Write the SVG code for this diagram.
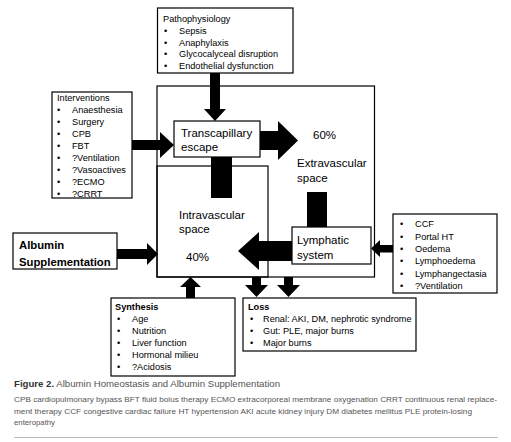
<svg xmlns="http://www.w3.org/2000/svg" width="511" height="442" viewBox="0 0 511 442">
<style>
.box{fill:#fff;stroke:#000;stroke-width:1.2}
.frame{fill:none;stroke:#000;stroke-width:1.2}
.s{font-family:"Liberation Sans",Arial,sans-serif;font-size:9.2px;fill:#000}
.m{font-family:"Liberation Sans",Arial,sans-serif;font-size:11.5px;fill:#000}
.b{font-weight:bold}
.cap{font-family:"Liberation Sans",Arial,sans-serif;font-size:7.6px;fill:#555}
.ttl{font-family:"Liberation Sans",Arial,sans-serif;font-size:9.6px;fill:#555}
.ar{fill:#000}
</style>
<rect width="511" height="442" fill="#fff"/>

<g id="extravascular">
<rect class="frame" x="157" y="86" width="217.5" height="191"/>
<text class="m" x="313" y="139">60%</text>
<text class="m" x="297" y="167">Extravascular</text>
<text class="m" x="297" y="182">space</text>
</g>

<g id="intravascular">
<rect class="frame" x="157" y="166" width="111" height="111"/>
<text class="m" x="179" y="219">Intravascular</text>
<text class="m" x="179" y="233">space</text>
<text class="m" x="186" y="261">40%</text>
</g>

<g id="connectors">
<rect class="ar" x="210" y="73" width="10" height="37"/>
<polygon class="ar" points="204,109 226,109 215,121"/>
<rect class="ar" x="132" y="140" width="29" height="10"/>
<polygon class="ar" points="160,132 160,158 174,145"/>
<rect class="ar" x="260" y="131" width="19" height="19"/>
<polygon class="ar" points="278,121 278,160 298,140.5"/>
<rect class="ar" x="211" y="157" width="21" height="41"/>
<rect class="ar" x="307" y="192" width="20" height="35"/>
<rect class="ar" x="258" y="241" width="34" height="20"/>
<polygon class="ar" points="259,232 259,270 238,251"/>
<rect class="ar" x="117" y="249" width="31" height="10"/>
<polygon class="ar" points="147,243 147,265 158,254"/>
<rect class="ar" x="379" y="245" width="14" height="7.5"/>
<polygon class="ar" points="380,240 380,257 371,248.5"/>
<rect class="ar" x="186" y="286" width="9" height="12"/>
<polygon class="ar" points="180,287 201,287 190.5,277"/>
<rect class="ar" x="252" y="277" width="9" height="9"/>
<polygon class="ar" points="245,285 268,285 256.5,297"/>
<rect class="ar" x="284" y="277" width="9" height="9"/>
<polygon class="ar" points="277,285 300,285 288.5,297"/>
</g>

<g id="pathophysiology">
<rect class="box" x="157.5" y="8" width="135.5" height="65"/>
<text class="s" x="163" y="21.7">Pathophysiology</text>
<text class="s" x="164" y="33.6">•</text><text class="s" x="179" y="33.6">Sepsis</text>
<text class="s" x="164" y="45.5">•</text><text class="s" x="179" y="45.5">Anaphylaxis</text>
<text class="s" x="164" y="57.4">•</text><text class="s" x="179" y="57.4">Glycocalyceal disruption</text>
<text class="s" x="164" y="69.3">•</text><text class="s" x="179" y="69.3">Endothelial dysfunction</text>
</g>

<g id="interventions">
<rect class="box" x="52" y="92" width="80" height="106"/>
<text class="s" x="57" y="100.5">Interventions</text>
<text class="s" x="57" y="112.5">•</text><text class="s" x="72" y="112.5">Anaesthesia</text>
<text class="s" x="57" y="124.5">•</text><text class="s" x="72" y="124.5">Surgery</text>
<text class="s" x="57" y="136.5">•</text><text class="s" x="72" y="136.5">CPB</text>
<text class="s" x="57" y="148.5">•</text><text class="s" x="72" y="148.5">FBT</text>
<text class="s" x="57" y="160.5">•</text><text class="s" x="72" y="160.5">?Ventilation</text>
<text class="s" x="57" y="172.5">•</text><text class="s" x="72" y="172.5">?Vasoactives</text>
<text class="s" x="57" y="184.5">•</text><text class="s" x="72" y="184.5">?ECMO</text>
<text class="s" x="57" y="196.5">•</text><text class="s" x="72" y="196.5">?CRRT</text>
</g>

<g id="transcapillary">
<rect class="box" x="174" y="121" width="86" height="36"/>
<text class="m" x="181" y="137">Transcapillary</text>
<text class="m" x="181" y="151">escape</text>
</g>

<g id="lymphatic">
<rect class="box" x="292" y="227" width="79" height="37"/>
<text class="m" x="297" y="244">Lymphatic</text>
<text class="m" x="297" y="259">system</text>
</g>

<g id="lymph-causes">
<rect class="box" x="393" y="214" width="104" height="79"/>
<text class="s" x="400" y="227.2">•</text><text class="s" x="415" y="227.2">CCF</text>
<text class="s" x="400" y="239.6">•</text><text class="s" x="415" y="239.6">Portal HT</text>
<text class="s" x="400" y="252">•</text><text class="s" x="415" y="252">Oedema</text>
<text class="s" x="400" y="264.4">•</text><text class="s" x="415" y="264.4">Lymphoedema</text>
<text class="s" x="400" y="276.8">•</text><text class="s" x="415" y="276.8">Lymphangectasia</text>
<text class="s" x="400" y="289.2">•</text><text class="s" x="415" y="289.2">?Ventilation</text>
</g>

<g id="albumin">
<rect class="box" x="13" y="233" width="104" height="36"/>
<text class="m b" x="19" y="249" style="font-size:11.3px">Albumin</text>
<text class="m b" x="19" y="266" style="font-size:11.3px">Supplementation</text>
</g>

<g id="synthesis">
<rect class="box" x="111" y="298" width="124" height="78"/>
<text class="s b" x="115" y="310.2">Synthesis</text>
<text class="s" x="117" y="322.2">•</text><text class="s" x="132" y="322.2">Age</text>
<text class="s" x="117" y="334.2">•</text><text class="s" x="132" y="334.2">Nutrition</text>
<text class="s" x="117" y="346.2">•</text><text class="s" x="132" y="346.2">Liver function</text>
<text class="s" x="117" y="358.2">•</text><text class="s" x="132" y="358.2">Hormonal milieu</text>
<text class="s" x="117" y="370.2">•</text><text class="s" x="132" y="370.2">?Acidosis</text>
</g>

<g id="loss">
<rect class="box" x="243" y="298" width="173" height="53"/>
<text class="s b" x="248" y="310.2">Loss</text>
<text class="s" x="250" y="322.2">•</text><text class="s" x="263" y="322.2">Renal: AKI, DM, nephrotic syndrome</text>
<text class="s" x="250" y="334.2">•</text><text class="s" x="263" y="334.2">Gut: PLE, major burns</text>
<text class="s" x="250" y="346.2">•</text><text class="s" x="263" y="346.2">Major burns</text>
</g>

<g id="caption">
<text class="ttl" x="14" y="387" textLength="266" lengthAdjust="spacingAndGlyphs"><tspan font-weight="bold" fill="#333">Figure 2.</tspan> Albumin Homeostasis and Albumin Supplementation</text>
<text class="cap" x="14" y="402" textLength="483" lengthAdjust="spacingAndGlyphs">CPB cardiopulmonary bypass BFT fluid bolus therapy ECMO extracorporeal membrane oxygenation CRRT continuous renal replace-</text>
<text class="cap" x="14" y="413.5" textLength="458" lengthAdjust="spacingAndGlyphs">ment therapy CCF congestive cardiac failure HT hypertension AKI acute kidney injury DM diabetes mellitus PLE protein-losing</text>
<text class="cap" x="14" y="424.5" textLength="41" lengthAdjust="spacingAndGlyphs">enteropathy</text>
<line x1="14" y1="437.5" x2="498" y2="437.5" stroke="#bbb" stroke-width="1"/>
</g>
</svg>
